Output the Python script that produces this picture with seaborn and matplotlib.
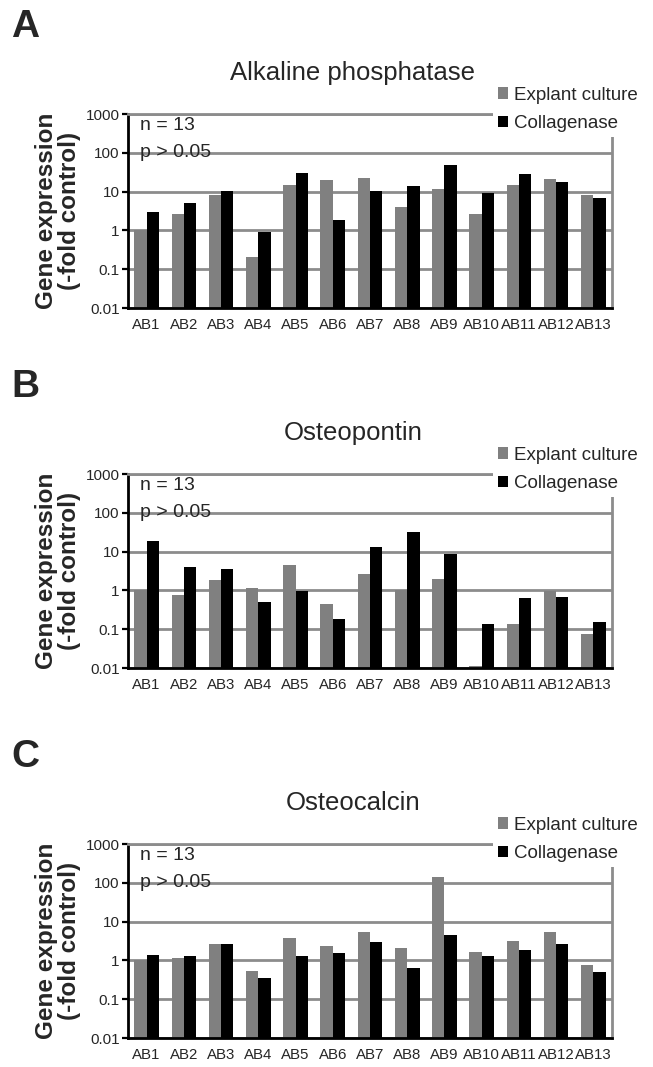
import numpy as np
import pandas as pd
import matplotlib
matplotlib.use("Agg")
import matplotlib.pyplot as plt
import seaborn as sns

# ---------------- data ----------------
categories = ["AB1", "AB2", "AB3", "AB4", "AB5", "AB6", "AB7",
              "AB8", "AB9", "AB10", "AB11", "AB12", "AB13"]
series_names = ["Explant culture", "Collagenase"]

alp_explant = [1.0, 2.6, 8.0, 0.21, 15.0, 20.0, 23.0, 3.9, 11.5, 2.7, 14.5, 21.0, 8.0]
alp_collagenase = [2.9, 5.1, 10.5, 0.93, 30.0, 1.8, 10.4, 14.0, 49.0, 9.4, 29.0, 18.0, 6.9]

opn_explant = [1.0, 0.75, 1.85, 1.12, 4.5, 0.45, 2.6, 1.0, 2.0, 0.011, 0.14, 0.97, 0.074]
opn_collagenase = [19.0, 4.0, 3.6, 0.51, 0.94, 0.18, 13.0, 32.0, 8.7, 0.14, 0.63, 0.68, 0.15]

ocn_explant = [1.0, 1.17, 2.7, 0.52, 3.7, 2.3, 5.5, 2.15, 140.0, 1.6, 3.25, 5.3, 0.77]
ocn_collagenase = [1.37, 1.27, 2.6, 0.35, 1.32, 1.54, 2.9, 0.65, 4.4, 1.32, 1.85, 2.7, 0.51]

panel_letters = ["A", "B", "C"]
panel_titles = ["Alkaline phosphatase", "Osteopontin", "Osteocalcin"]
y_ticks = [0.01, 0.1, 1, 10, 100, 1000]
y_tick_labels = ["0.01", "0.1", "1", "10", "100", "1000"]
annot_lines = ["n = 13", "p > 0.05"]
ylabel_text = "Gene expression\n(-fold control)"

panel_data = [(alp_explant, alp_collagenase),
              (opn_explant, opn_collagenase),
              (ocn_explant, ocn_collagenase)]

# ---------------- style ----------------
sns.set_style("white")
plt.rcParams["font.family"] = ["Liberation Sans", "DejaVu Sans"]

W, H = 653, 1067
fig = plt.figure(figsize=(W / 100, H / 100), dpi=100)

GRAY = "#808080"
BLACK = "#000000"
GRID = "#8c8c8c"

ax_left, ax_right = 128, 612
ax_tops = [114, 474, 844]
ax_h = 194

for i, (letter, title, (expl, coll)) in enumerate(zip(panel_letters, panel_titles, panel_data)):
    top = ax_tops[i]
    ax = fig.add_axes([ax_left / W, 1 - (top + ax_h) / H,
                       (ax_right - ax_left) / W, ax_h / H])
    df = pd.DataFrame({
        "cat": categories * 2,
        "val": list(expl) + list(coll),
        "series": [series_names[0]] * len(categories) + [series_names[1]] * len(categories),
    })
    sns.barplot(data=df, x="cat", y="val", hue="series", order=categories,
                hue_order=series_names, palette=[GRAY, BLACK], saturation=1,
                width=0.66, linewidth=0, errorbar=None, ax=ax)
    ax.set_yscale("log")
    ax.set_ylim(0.01, 1000)
    ax.set_xlim(-0.5, len(categories) - 0.5)
    ax.set_yticks(y_ticks)
    ax.set_yticklabels(y_tick_labels, fontsize=11)
    ax.yaxis.set_minor_locator(matplotlib.ticker.NullLocator())
    ax.set_xticks(range(len(categories)))
    ax.set_xticklabels(categories, fontsize=10.8)
    ax.set_xticks(np.arange(-0.5, len(categories), 1), minor=True)
    ax.tick_params(axis="x", which="major", length=0, pad=7)
    ax.tick_params(axis="x", which="minor", length=5, width=1.6, color=BLACK, direction="out")
    ax.tick_params(axis="y", which="major", length=4, width=1.6, color=BLACK,
                   direction="out", pad=2, left=True)
    ax.set_xlabel("")
    ax.set_ylabel("")
    ax.grid(axis="y", which="major", color=GRID, linewidth=2)
    ax.grid(axis="x", visible=False)
    ax.set_axisbelow(True)
    for s in ["left", "bottom"]:
        ax.spines[s].set_color(BLACK)
        ax.spines[s].set_linewidth(2)
    for s in ["right", "top"]:
        ax.spines[s].set_visible(True)
        ax.spines[s].set_color(GRID)
        ax.spines[s].set_linewidth(2)

    handles, labels = ax.get_legend_handles_labels()
    leg = ax.legend(handles, labels, loc="lower left",
                    bbox_to_anchor=(0.754, 0.881), bbox_transform=ax.transAxes,
                    fontsize=13.5, frameon=True, fancybox=False,
                    facecolor="white", edgecolor="none", framealpha=1,
                    handlelength=0.55, handleheight=0.55, handletextpad=0.3,
                    labelspacing=0.62, borderpad=0.25, borderaxespad=0)
    leg.set_zorder(10)

    ax.text(0.025, 0.94, annot_lines[0], transform=ax.transAxes,
            fontsize=14, ha="left", va="center", zorder=4)
    ax.text(0.025, 0.80, annot_lines[1], transform=ax.transAxes,
            fontsize=14, ha="left", va="center", zorder=4)

    fig.text(353 / W, 1 - (top - 41) / H, title, ha="center", va="center", fontsize=18.5)
    fig.text(11 / W, 1 - (top - 87) / H, letter, ha="left", va="center",
             fontsize=28, fontweight="bold")
    fig.text(58 / W, 1 - (top + ax_h / 2) / H, ylabel_text, ha="center", va="center",
             rotation=90, fontsize=17.5, fontweight="bold", linespacing=1.0)

fig.savefig("out.png", dpi=100)
